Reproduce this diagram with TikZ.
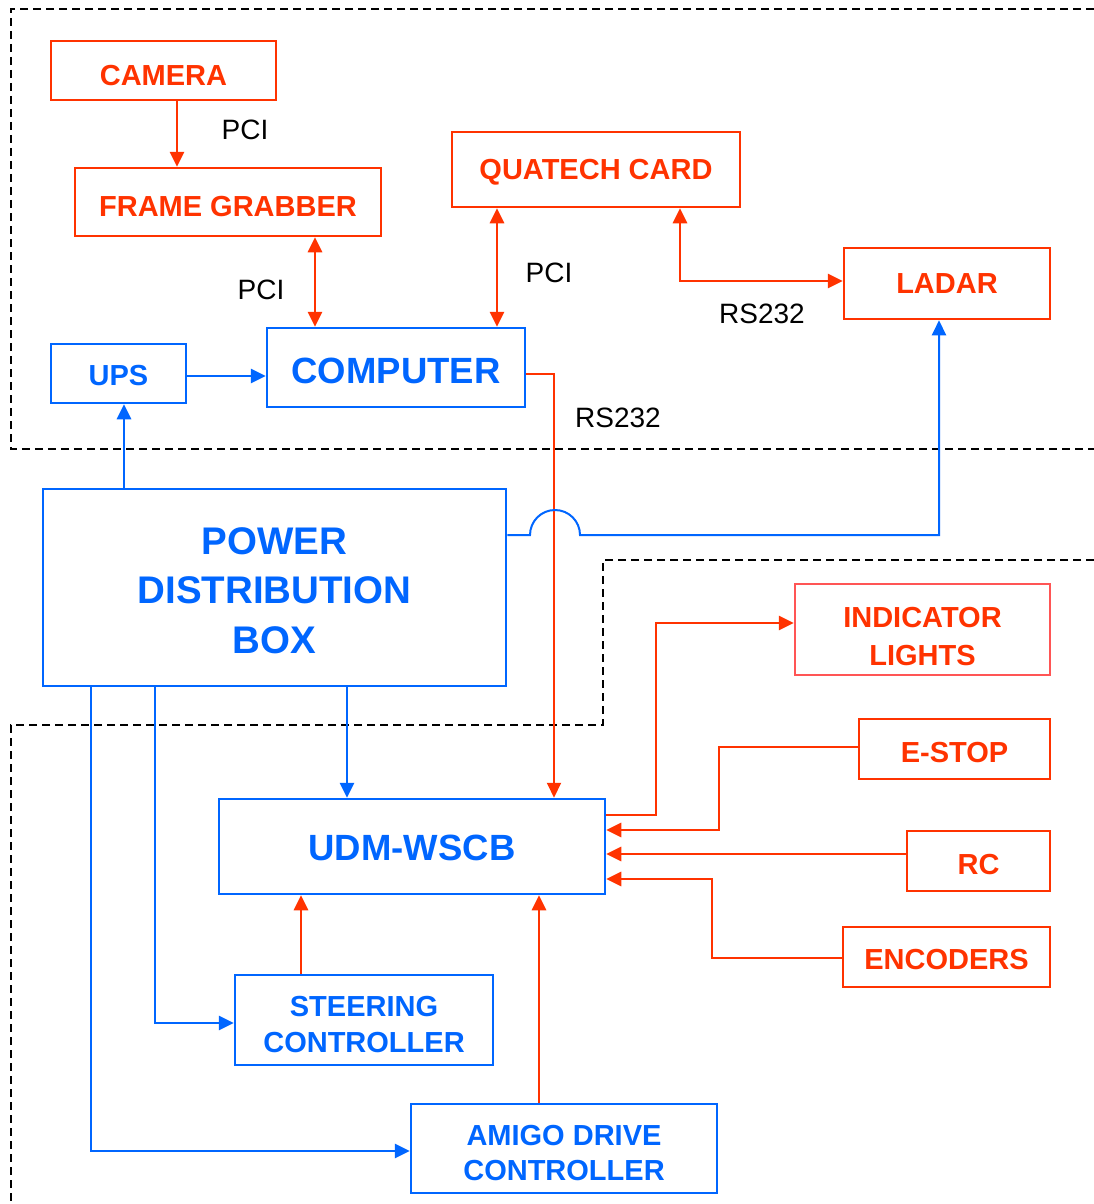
\documentclass[tikz,border=0pt]{standalone}
\usepackage{fontspec}
\setmainfont{Liberation Sans}
\usetikzlibrary{arrows.meta}
\definecolor{cred}{RGB}{255,51,0}
\definecolor{cblue}{RGB}{0,102,255}
\definecolor{clight}{RGB}{255,85,85}
\begin{document}
\begin{tikzpicture}[x=1pt,y=1pt,
  box/.style={draw, line width=2.5pt, inner sep=0pt},
  rbox/.style={box, draw=cred},
  bbox/.style={box, draw=cblue},
  txt/.style={inner sep=0pt, align=center, font=\fontsize{29}{35.5}\selectfont\bfseries},
  rtxt/.style={txt, text=cred},
  btxt/.style={txt, text=cblue},
  bigtext/.style={font=\fontsize{36.5}{44}\selectfont\bfseries},
  tip/.style={-{Triangle[length=15pt,width=14pt]}},
  tips/.style={{Triangle[length=15pt,width=14pt]}-{Triangle[length=15pt,width=14pt]}},
  rline/.style={draw=cred, line width=2.7pt},
  bline/.style={draw=cblue, line width=2.7pt},
  thin/.style={line width=2pt},
  zone/.style={draw=black, line width=1.8pt, dash pattern=on 8pt off 5pt},
  lbl/.style={font=\fontsize{28}{32}\selectfont, text=black, inner sep=0pt}
]
\fill[white] (0,0) rectangle (1094,-1204);
\useasboundingbox (0,0) rectangle (1094,-1204);

% zones
\draw[zone] (1094,-9) -- (11,-9) -- (11,-449) -- (1094,-449);
\draw[zone] (1094,-560) -- (603,-560) -- (603,-725) -- (11,-725) -- (11,-1204);

% boxes
\node[rbox, minimum width=225pt, minimum height=59pt] (cam) at (163.5,-70.5) {};
\node[rbox, minimum width=306pt, minimum height=68pt] (fg) at (228,-202) {};
\node[rbox, minimum width=288pt, minimum height=75pt] (qc) at (596,-169.5) {};
\node[rbox, minimum width=206pt, minimum height=71pt] (ladar) at (947,-283.5) {};
\node[bbox, minimum width=135pt, minimum height=59pt] (ups) at (118.5,-373.5) {};
\node[bbox, minimum width=258pt, minimum height=79pt] (comp) at (396,-367.5) {};
\node[bbox, minimum width=463pt, minimum height=197pt] (pdb) at (274.5,-587.5) {};
\node[box, draw=clight, minimum width=255pt, minimum height=91pt] (ind) at (922.5,-629.5) {};
\node[rbox, minimum width=191pt, minimum height=60pt] (estop) at (954.5,-749) {};
\node[rbox, minimum width=143pt, minimum height=60pt] (rc) at (978.5,-861) {};
\node[rbox, minimum width=207pt, minimum height=60pt] (enc) at (946.5,-957) {};
\node[bbox, minimum width=386pt, minimum height=95pt] (udm) at (412,-846.5) {};
\node[bbox, minimum width=258pt, minimum height=90pt] (steer) at (364,-1020) {};
\node[bbox, minimum width=306pt, minimum height=89pt] (amigo) at (564,-1148.5) {};

% box texts
\node[rtxt] (cam-t) at ([yshift=-5pt]cam.center) {CAMERA};
\node[rtxt] (fg-t) at ([yshift=-5pt]fg.center) {FRAME GRABBER};
\node[rtxt] (qc-t) at ([yshift=-3pt]qc.center) {QUATECH CARD};
\node[rtxt] (ladar-t) at ([yshift=0pt]ladar.center) {LADAR};
\node[btxt] (ups-t) at ([yshift=-2.5pt]ups.center) {UPS};
\node[btxt, bigtext] (comp-t) at ([yshift=-3pt]comp.center) {COMPUTER};
\node[btxt, font=\fontsize{38.5}{49.3}\selectfont\bfseries] (pdb-t) at ([yshift=-3pt]pdb.center) {POWER\\DISTRIBUTION\\BOX};
\node[rtxt, font=\fontsize{29}{38.3}\selectfont\bfseries] (ind-t) at ([yshift=-7pt]ind.center) {INDICATOR\\LIGHTS};
\node[rtxt] (estop-t) at ([yshift=-4pt]estop.center) {E-STOP};
\node[rtxt] (rc-t) at ([yshift=-4pt]rc.center) {RC};
\node[rtxt] (enc-t) at ([yshift=-3pt]enc.center) {ENCODERS};
\node[btxt, bigtext] (udm-t) at ([yshift=-1pt]udm.center) {UDM-WSCB};
\node[btxt] (steer-t) at ([yshift=-4.5pt]steer.center) {STEERING\\CONTROLLER};
\node[btxt] (amigo-t) at ([yshift=-4.5pt]amigo.center) {AMIGO DRIVE\\CONTROLLER};

% labels
\node[lbl] (l1) at (245,-130) {PCI};
\node[lbl] (l2) at (261,-290) {PCI};
\node[lbl] (l3) at (549,-273) {PCI};
\node[lbl] (l4) at (762,-314) {RS232};
\node[lbl] (l5) at (618,-418) {RS232};

% helper coordinates
\coordinate (x91) at (91,0);
\coordinate (x124) at (124,0);
\coordinate (x155) at (155,0);
\coordinate (x177) at (177,0);
\coordinate (x301) at (301,0);
\coordinate (x315) at (315,0);
\coordinate (x347) at (347,0);
\coordinate (x497) at (497,0);
\coordinate (x539) at (539,0);
\coordinate (x554) at (554,0);
\coordinate (x656) at (656,0);
\coordinate (x680) at (680,0);
\coordinate (x712) at (712,0);
\coordinate (x719) at (719,0);
\coordinate (x939) at (939,0);
\coordinate (y281) at (0,-281);
\coordinate (y374) at (0,-374);
\coordinate (y376) at (0,-376);
\coordinate (y535) at (0,-535);
\coordinate (y623) at (0,-623);
\coordinate (y747) at (0,-747);
\coordinate (y815) at (0,-815);
\coordinate (y830) at (0,-830);
\coordinate (y854) at (0,-854);
\coordinate (y879) at (0,-879);
\coordinate (y958) at (0,-958);
\coordinate (y1023) at (0,-1023);
\coordinate (y1151) at (0,-1151);

% top connectors
\draw[rline, tip] (cam.south -| x177) -- (fg.north -| x177);
\draw[rline, tips] (fg.south -| x315) -- (comp.north -| x315);
\draw[rline, tips] (qc.south -| x497) -- (comp.north -| x497);
\draw[rline, tips] (qc.south -| x680) |- (ladar.west |- y281);
\draw[bline, tip] (ups.east |- y376) -- (comp.west |- y376);
\draw[bline, tip] (pdb.north -| x124) -- (ups.south -| x124);
\draw[rline, thin, tip] (comp.east |- y374) -| (udm.north -| x554);
\draw[bline, thin, tip] (pdb.east |- y535) -- (530,-535)
   arc[start angle=180, end angle=0, radius=25] -- (580,-535)
   -| (ladar.south -| x939);

% power distribution
\draw[bline, tip] (pdb.south -| x347) -- (udm.north -| x347);
\draw[bline, tip] (pdb.south -| x155) |- (steer.west |- y1023);
\draw[bline, tip] (pdb.south -| x91) |- (amigo.west |- y1151);

% right side
\draw[rline, tip] (udm.east |- y815) -| (x656 |- y623) -- (ind.west |- y623);
\draw[rline, tip] (estop.west |- y747) -| (x719 |- y830) -- (udm.east |- y830);
\draw[rline, tip] (rc.west |- y854) -- (udm.east |- y854);
\draw[rline, tip] (enc.west |- y958) -| (x712 |- y879) -- (udm.east |- y879);

% controllers to UDM
\draw[rline, tip] (steer.north -| x301) -- (udm.south -| x301);
\draw[rline, tip] (amigo.north -| x539) -- (udm.south -| x539);
\end{tikzpicture}
\end{document}
